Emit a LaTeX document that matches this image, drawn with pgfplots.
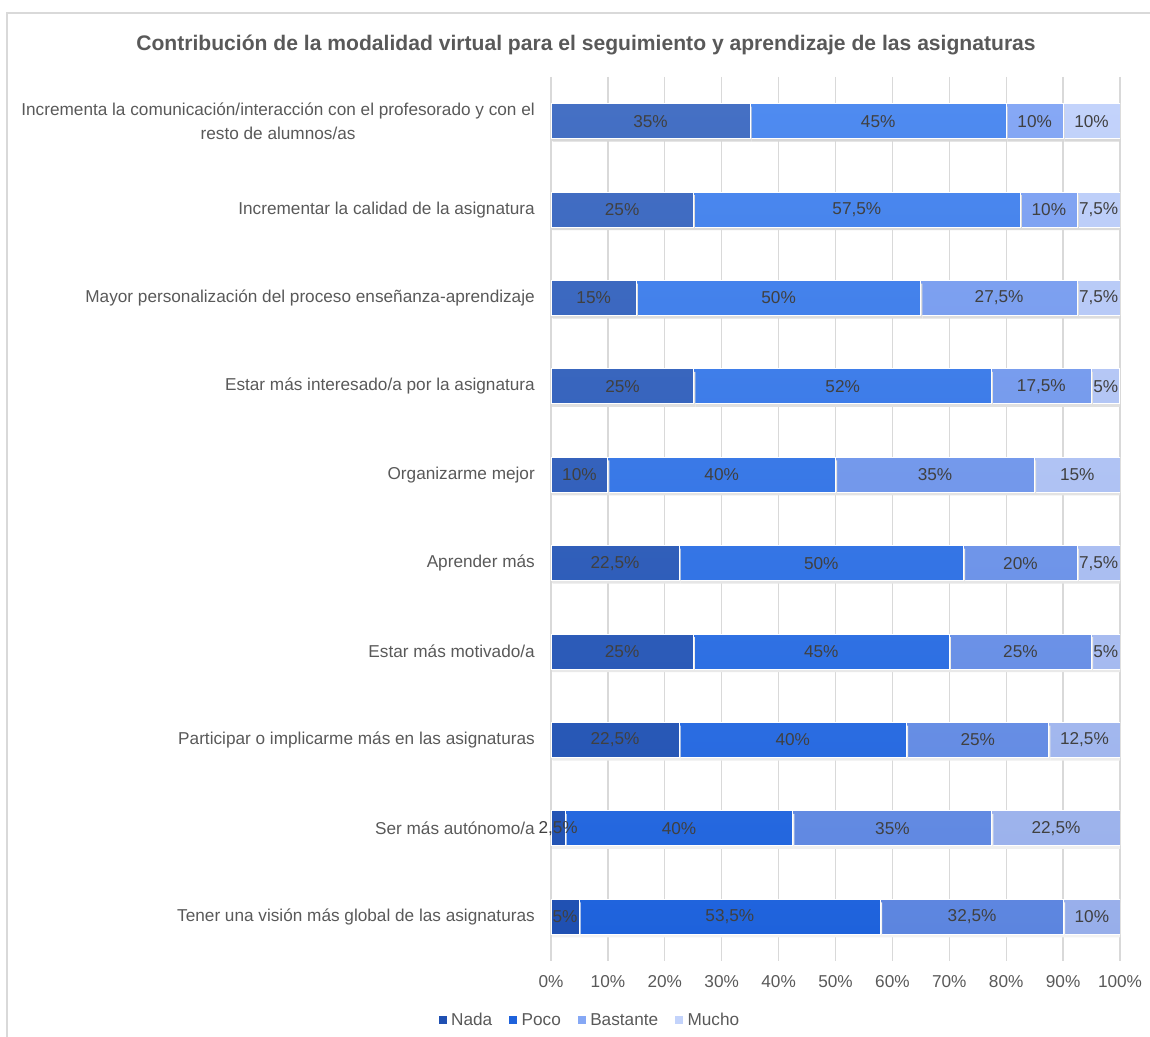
\documentclass[border=0pt]{standalone}
\usepackage{pgfplots}
\pgfplotsset{compat=1.18}
\usepackage{pgfplotstable}
\usepackage{fontspec}
\setmainfont{Liberation Sans}

% bar fills: lighter at the top, darker at the bottom
\definecolor{nadaT}{HTML}{4570C4}
\definecolor{nadaB}{HTML}{1F50B2}
\definecolor{pocoT}{HTML}{4F8BF0}
\definecolor{pocoB}{HTML}{1E62DC}
\definecolor{bastT}{HTML}{86A8F5}
\definecolor{bastB}{HTML}{5C85DF}
\definecolor{muchoT}{HTML}{C3D3FB}
\definecolor{muchoB}{HTML}{97AEEA}
\definecolor{txtgray}{HTML}{595959}
\definecolor{valgray}{HTML}{404040}
\definecolor{gridgray}{HTML}{D9D9D9}

% percentages per item: Nada, Poco, Bastante, Mucho
\pgfplotstableread{
idx nada poco bastante mucho
0   35   45   10       10
1   25   57.5 10       7.5
2   15   50   27.5     7.5
3   25   52   17.5     5
4   10   40   35       15
5   22.5 50   20       7.5
6   25   45   25       5
7   22.5 40   25       12.5
8   2.5  40   35       22.5
9   5    53.5 32.5     10
}\datatable

% 100% stacking: each segment as a share of its row total
\newcommand{\share}[1]{100*\thisrow{#1}/(\thisrow{nada}+\thisrow{poco}+\thisrow{bastante}+\thisrow{mucho})}

\newcommand{\fs}{\fontsize{17.2}{24}\selectfont}

\pgfplotsset{
  segment/.style 2 args={
    top color=#1, bottom color=#2, draw=white, line width=1pt,
    preaction={draw=none, top color=black!16, bottom color=black!5,
      transform canvas={xshift=1.5pt, yshift=-3pt}},
  },
}

\begin{document}
\begin{tikzpicture}[x=1pt,y=1pt]
\path[use as bounding box] (0,0) rectangle (1150,1036);
% outer chart frame
\draw[gridgray, line width=1.5pt] (7,-20) -- (7,1023) -- (1170,1023);

\node[font=\fontsize{21.1}{24}\selectfont\bfseries, text=txtgray] at (586,991)
  {Contribución de la modalidad virtual para el seguimiento y aprendizaje de las asignaturas};

\begin{axis}[
  at={(551pt,75pt)}, anchor=south west,
  scale only axis, width=569pt, height=884pt,
  xbar stacked, bar width=35pt,
  xmin=0, xmax=100, ymin=-0.5, ymax=9.5, y dir=reverse,
  axis line style={draw=none}, tick style={draw=none},
  xmajorgrids, major grid style={gridgray, line width=1.3pt},
  xtick={0,10,...,100},
  xticklabel={\pgfmathprintnumber{\tick}\%},
  xticklabel style={font=\fs, text=txtgray, yshift=-11pt},
  ytick={0,...,9},
  yticklabels={
    {Incrementa la comunicación/interacción con el profesorado y con el\\resto de alumnos/as},
    {Incrementar la calidad de la asignatura},
    {Mayor personalización del proceso enseñanza-aprendizaje},
    {Estar más interesado/a por la asignatura},
    {Organizarme mejor},
    {Aprender más},
    {Estar más motivado/a},
    {Participar o implicarme más en las asignaturas},
    {Ser más autónomo/a},
    {Tener una visión más global de las asignaturas}},
  yticklabel style={font=\fs, text=txtgray, align=center, inner xsep=0pt, xshift=-16pt},
  /pgf/number format/.cd, use comma, fixed, 1000 sep={}, assume math mode=true,
  /pgfplots/.cd,
  point meta=explicit,
  nodes near coords={\pgfmathprintnumber{\pgfplotspointmeta}\%},
  nodes near coords style={anchor=center, font=\fs, text=valgray, inner sep=0pt},
  legend style={at={(0.0685,-0.0667)}, anchor=center, draw=none, fill=none,
    legend columns=4, font=\fs, text=txtgray,
    /tikz/every even column/.append style={column sep=15pt}},
  legend entries={Nada,Poco,Bastante,Mucho},
]
\addlegendimage{legend image code/.code={\fill[nadaB] (0pt,-3.5pt) rectangle (7pt,3.5pt); \path (10pt,0pt);}}
\addlegendimage{legend image code/.code={\fill[pocoB] (0pt,-3.5pt) rectangle (7pt,3.5pt); \path (10pt,0pt);}}
\addlegendimage{legend image code/.code={\fill[bastT] (0pt,-3.5pt) rectangle (7pt,3.5pt); \path (10pt,0pt);}}
\addlegendimage{legend image code/.code={\fill[muchoT] (0pt,-3.5pt) rectangle (7pt,3.5pt); \path (10pt,0pt);}}

\addplot[segment={nadaT}{nadaB}]
  table[x expr=\share{nada}, y=idx, meta=nada] {\datatable};
\addplot[segment={pocoT}{pocoB}]
  table[x expr=\share{poco}, y=idx, meta=poco] {\datatable};
\addplot[segment={bastT}{bastB}]
  table[x expr=\share{bastante}, y=idx, meta=bastante] {\datatable};
\addplot[segment={muchoT}{muchoB}]
  table[x expr=\share{mucho}, y=idx, meta=mucho] {\datatable};
\end{axis}
\end{tikzpicture}
\end{document}
